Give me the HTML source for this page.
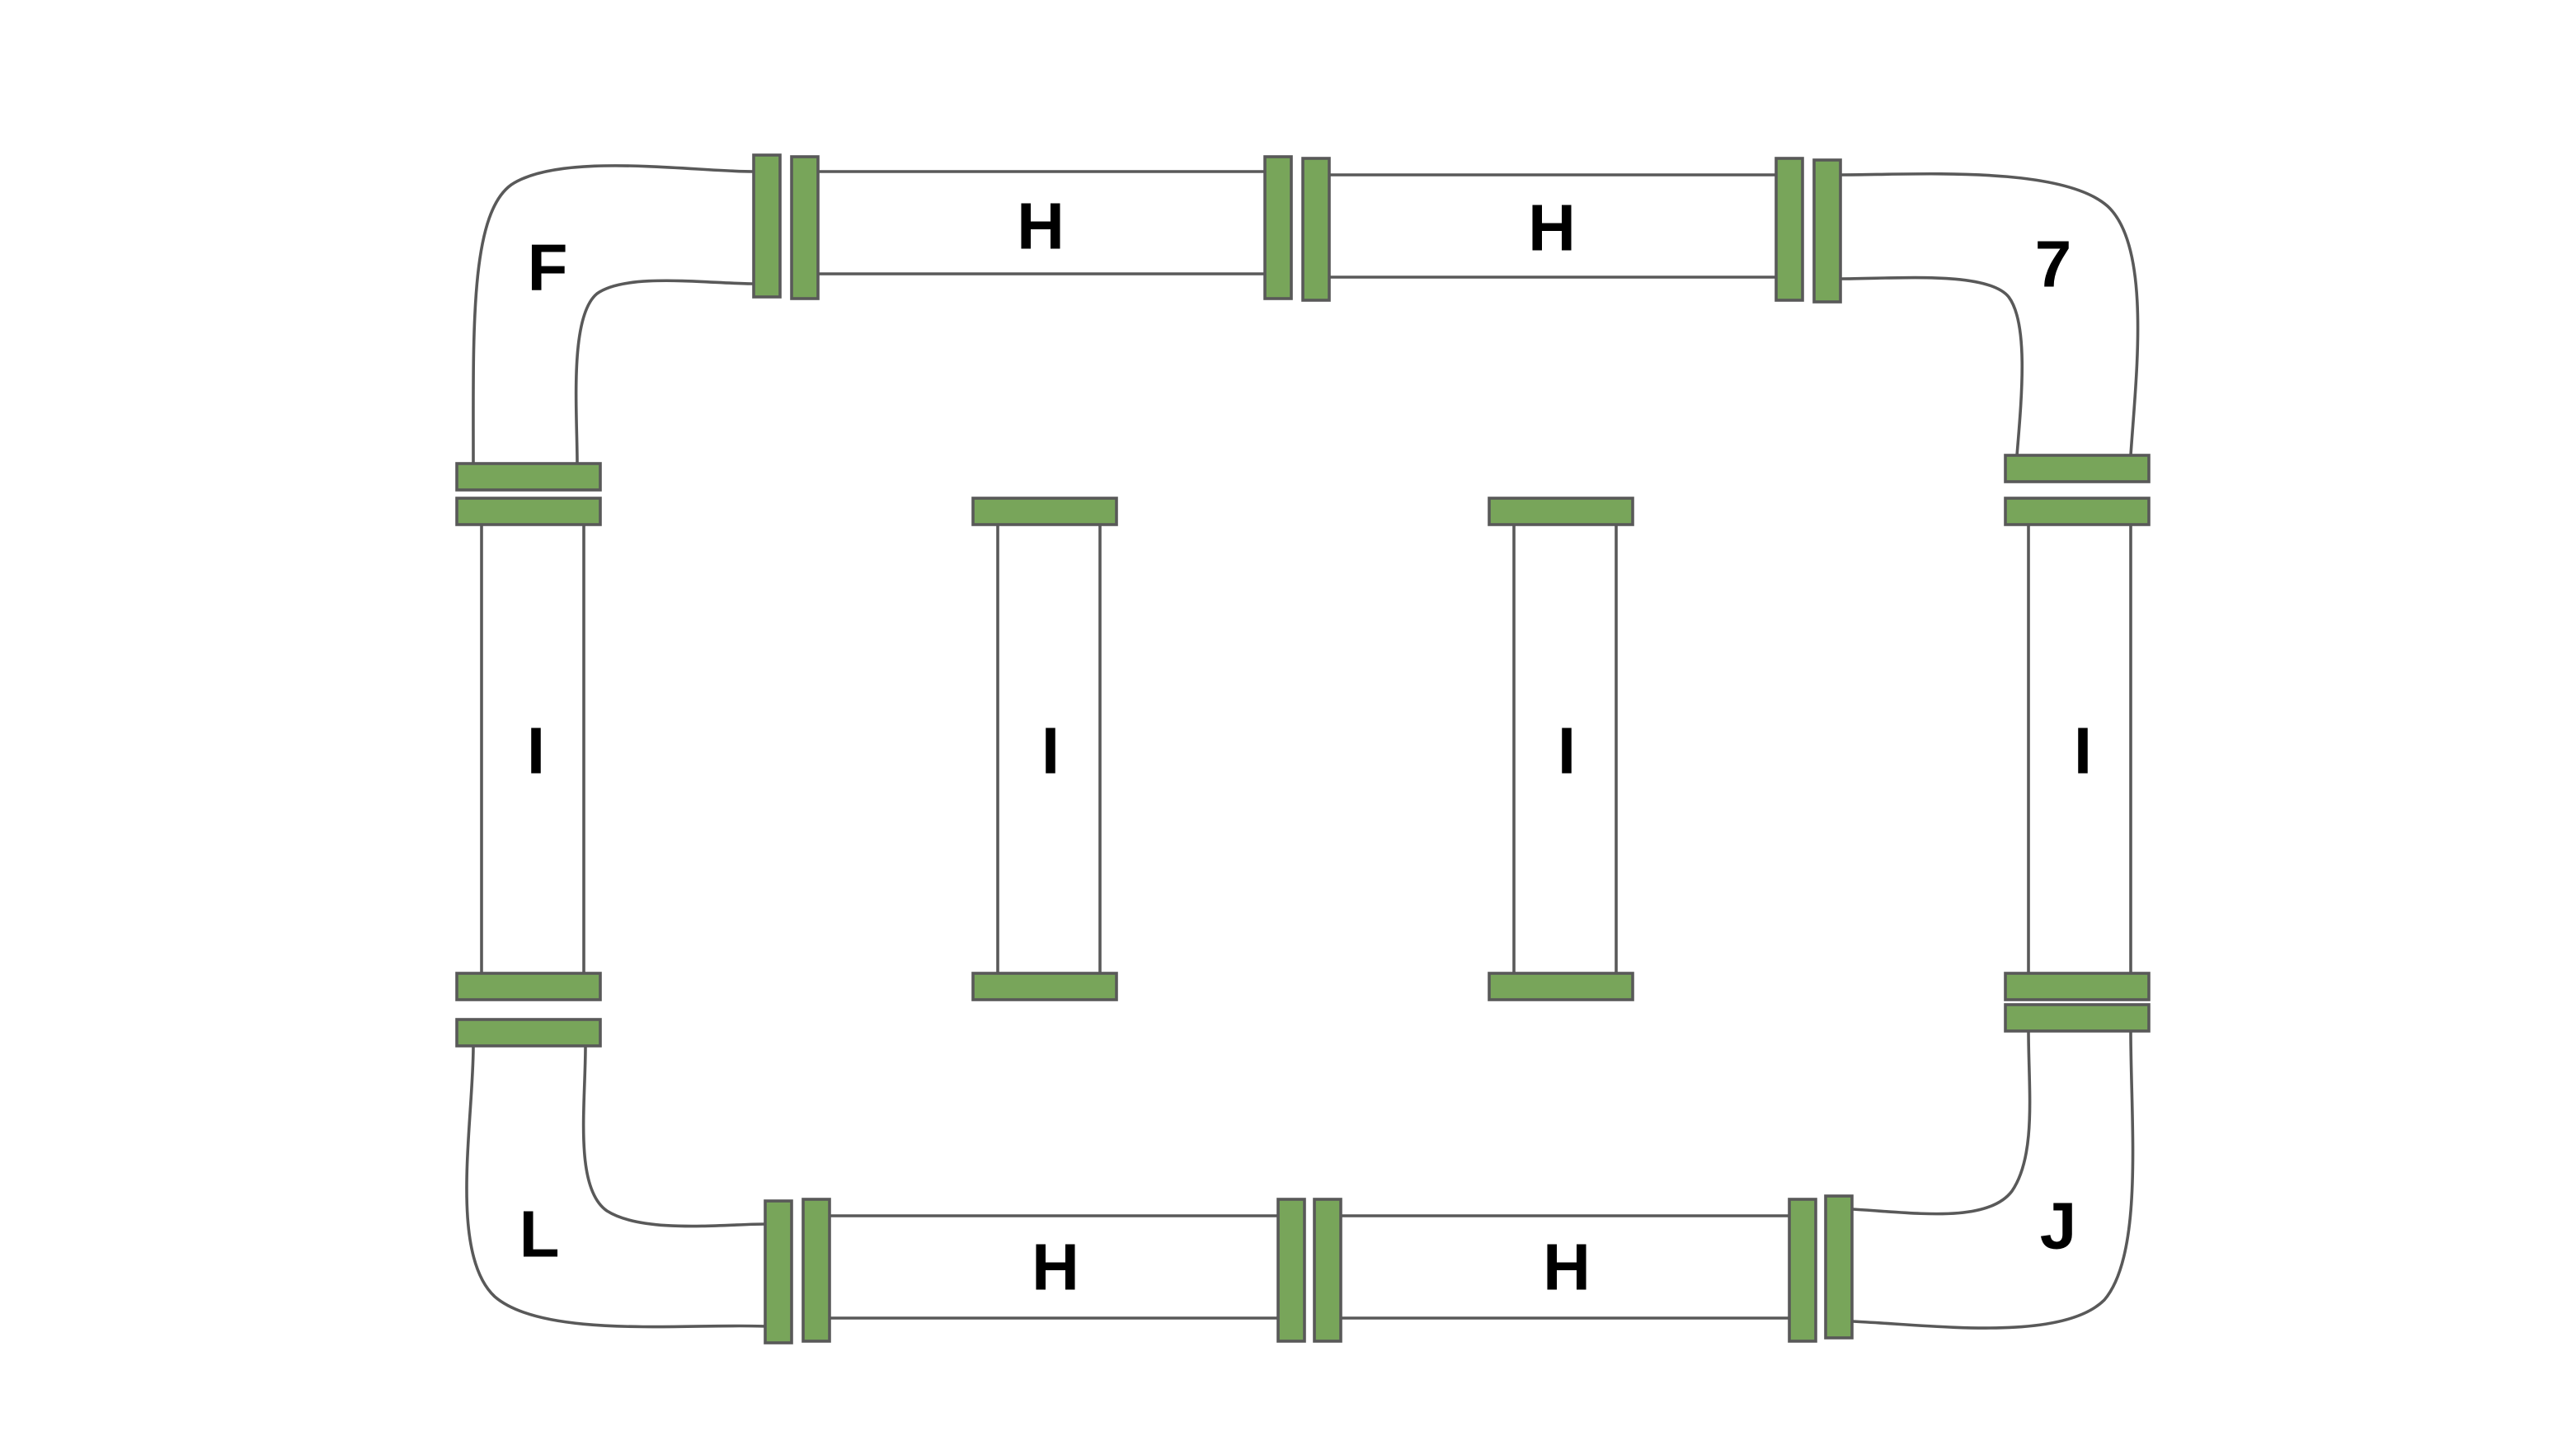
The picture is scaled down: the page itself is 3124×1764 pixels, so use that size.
<!DOCTYPE html>
<html><head><meta charset="utf-8"><style>
html,body{margin:0;padding:0;background:#fff;}
svg{display:block;}
text{font-family:"Liberation Sans",sans-serif;font-size:40px;font-weight:bold;fill:#000;text-anchor:middle;dominant-baseline:central;}
</style></head><body>
<svg width="3124" height="1764" viewBox="0 0 1562 882" xmlns="http://www.w3.org/2000/svg">
<g fill="none" stroke="#595959" stroke-width="1.8">
<line x1="496" y1="104" x2="767" y2="104"/><line x1="496" y1="166" x2="767" y2="166"/>
<line x1="806" y1="106" x2="1077" y2="106"/><line x1="806" y1="168" x2="1077" y2="168"/>
<line x1="503" y1="737" x2="775" y2="737"/><line x1="503" y1="799" x2="775" y2="799"/>
<line x1="813" y1="737" x2="1085" y2="737"/><line x1="813" y1="799" x2="1085" y2="799"/>
<line x1="292" y1="318" x2="292" y2="590"/><line x1="354" y1="318" x2="354" y2="590"/>
<line x1="605" y1="318" x2="605" y2="590"/><line x1="667" y1="318" x2="667" y2="590"/>
<line x1="918" y1="318" x2="918" y2="590"/><line x1="980" y1="318" x2="980" y2="590"/>
<line x1="1230" y1="318" x2="1230" y2="590"/><line x1="1292" y1="318" x2="1292" y2="590"/>
<path d="M457,104 C420,104 340,92 310,112 C285,130 287,200 287,281"/>
<path d="M457,172 C430,172 380,165 362,178 C345,192 350,250 350,281"/>
<path d="M287,634 C287,680 272,760 300,786 C330,812 420,802 464,804"/>
<path d="M355,634 C355,670 348,720 368,734 C390,748 440,742 464,742"/>
<path d="M1123,733 C1160,735 1205,742 1220,722 C1235,700 1230,660 1230,625"/>
<path d="M1123,801 C1170,803 1250,814 1276,788 C1300,760 1292,680 1292,625"/>
<path d="M1116,106 C1160,106 1250,100 1278,125 C1305,150 1295,230 1292,276"/>
<path d="M1116,169 C1150,169 1205,164 1218,180 C1230,196 1226,240 1223,276"/>
</g>
<g fill="#78a55a" stroke="#595959" stroke-width="1.8">
<rect x="457" y="94" width="16" height="86"/><rect x="480" y="95" width="16" height="86"/>
<rect x="767" y="95" width="16" height="86"/><rect x="790" y="96" width="16" height="86"/>
<rect x="1077" y="96" width="16" height="86"/><rect x="1100" y="97" width="16" height="86"/>
<rect x="464" y="728" width="16" height="86"/><rect x="487" y="727" width="16" height="86"/>
<rect x="775" y="727" width="16" height="86"/><rect x="797" y="727" width="16" height="86"/>
<rect x="1085" y="727" width="16" height="86"/><rect x="1107" y="725" width="16" height="86"/>
<rect x="277" y="281" width="87" height="16"/><rect x="277" y="302" width="87" height="16"/>
<rect x="277" y="590" width="87" height="16"/><rect x="277" y="618" width="87" height="16"/>
<rect x="590" y="302" width="87" height="16"/><rect x="590" y="590" width="87" height="16"/>
<rect x="903" y="302" width="87" height="16"/><rect x="903" y="590" width="87" height="16"/>
<rect x="1216" y="276" width="87" height="16"/><rect x="1216" y="302" width="87" height="16"/>
<rect x="1216" y="590" width="87" height="16"/><rect x="1216" y="609" width="87" height="16"/>
</g>
<text x="332" y="162">F</text>
<text x="631" y="137">H</text>
<text x="941" y="138">H</text>
<text x="1245" y="160">7</text>
<text x="325" y="455">I</text>
<text x="637" y="455">I</text>
<text x="950" y="455">I</text>
<text x="1263" y="455">I</text>
<text x="327" y="748">L</text>
<text x="640" y="768">H</text>
<text x="950" y="768">H</text>
<text x="1248" y="743">J</text>
</svg>
</body></html>
